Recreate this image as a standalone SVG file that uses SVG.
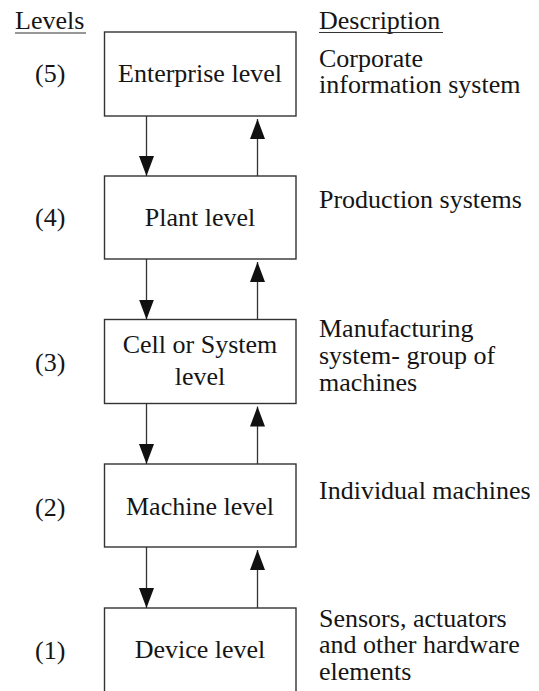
<svg xmlns="http://www.w3.org/2000/svg" width="539" height="691" viewBox="0 0 539 691">
<style>
  .t { font-family: 'Liberation Serif', 'Times New Roman', 'DejaVu Serif', serif; font-size: 26px; fill: #151515; }
  .box rect { fill: #ffffff; stroke: #333333; stroke-width: 1.4; }
  .mid { text-anchor: middle; }
  .conn line { stroke: #333333; stroke-width: 1.3; }
  .ul { stroke: #333333; stroke-width: 1.2; }
</style>
<defs>
  <marker id="ah" markerUnits="userSpaceOnUse" markerWidth="20" markerHeight="15" refX="20" refY="7.5" orient="auto" viewBox="0 0 20 15">
    <path d="M0,0 L20,7.5 L0,15 Z" fill="#111111"/>
  </marker>
</defs>
<rect width="539" height="691" fill="#ffffff"/>

<g id="headers" class="t">
  <text x="15" y="29">Levels</text>
  <line class="ul" x1="15" y1="33" x2="86" y2="33"/>
  <text x="319" y="29">Description</text>
  <line class="ul" x1="319" y1="32.5" x2="443" y2="32.5"/>
</g>

<g id="level-labels" class="t">
  <text x="35" y="82">(5)</text>
  <text x="35" y="226">(4)</text>
  <text x="35" y="371">(3)</text>
  <text x="35" y="516">(2)</text>
  <text x="35" y="659">(1)</text>
</g>

<g id="enterprise" class="box">
  <rect x="104.5" y="32" width="191.5" height="84"/>
  <text class="t mid" x="200" y="82">Enterprise level</text>
</g>
<g id="plant" class="box">
  <rect x="104.5" y="176" width="191.5" height="83"/>
  <text class="t mid" x="200" y="226">Plant level</text>
</g>
<g id="cell" class="box">
  <rect x="104.5" y="319.5" width="191.5" height="84"/>
  <text class="t mid" x="200" y="353">Cell or System</text>
  <text class="t mid" x="200" y="385">level</text>
</g>
<g id="machine" class="box">
  <rect x="104.5" y="464" width="191.5" height="83"/>
  <text class="t mid" x="200" y="515">Machine level</text>
</g>
<g id="device" class="box">
  <rect x="104.5" y="608" width="191.5" height="84"/>
  <text class="t mid" x="200" y="658">Device level</text>
</g>

<g id="connectors" class="conn">
  <line x1="146.5" y1="116" x2="146.5" y2="176" marker-end="url(#ah)"/>
  <line x1="257.5" y1="176" x2="257.5" y2="119" marker-end="url(#ah)"/>
  <line x1="146.5" y1="259" x2="146.5" y2="319.5" marker-end="url(#ah)"/>
  <line x1="257.5" y1="319.5" x2="257.5" y2="262" marker-end="url(#ah)"/>
  <line x1="146.5" y1="403.5" x2="146.5" y2="464" marker-end="url(#ah)"/>
  <line x1="257.5" y1="464" x2="257.5" y2="406.5" marker-end="url(#ah)"/>
  <line x1="146.5" y1="547" x2="146.5" y2="608" marker-end="url(#ah)"/>
  <line x1="257.5" y1="608" x2="257.5" y2="550" marker-end="url(#ah)"/>
</g>

<g id="descriptions" class="t">
  <text x="319" y="66.5">Corporate</text>
  <text x="319" y="93">information system</text>
  <text x="319" y="208">Production systems</text>
  <text x="319" y="337">Manufacturing</text>
  <text x="319" y="364">system- group of</text>
  <text x="319" y="391">machines</text>
  <text x="319" y="499">Individual machines</text>
  <text x="319" y="626.5">Sensors, actuators</text>
  <text x="319" y="653">and other hardware</text>
  <text x="319" y="679.5">elements</text>
</g>
</svg>
